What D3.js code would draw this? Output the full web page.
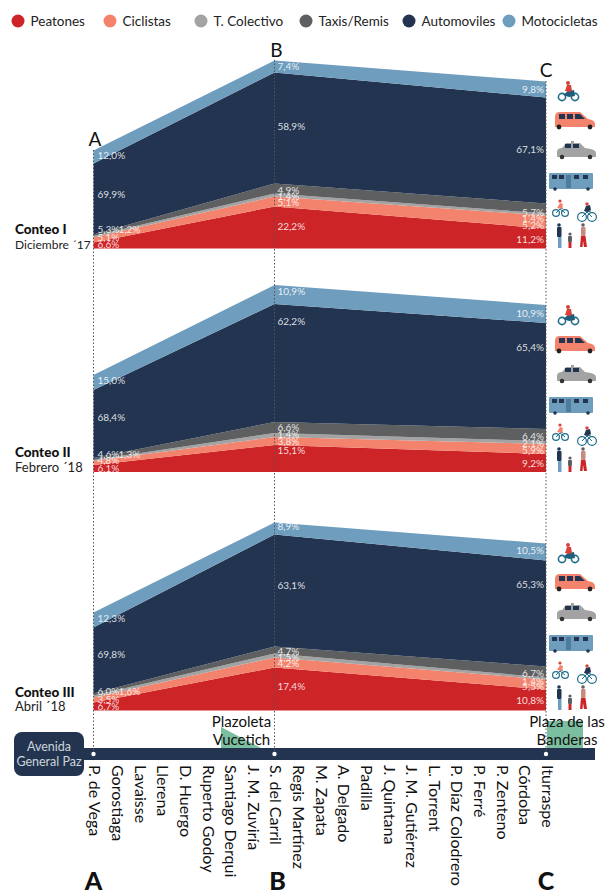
<!DOCTYPE html>
<html>
<head>
<meta charset="utf-8">
<script src="https://cdn.jsdelivr.net/npm/d3@7"></script>
<style>
  html, body { margin: 0; padding: 0; background: #fff; }
  text { font-family: Lato, 'Open Sans', sans-serif; }
</style>
</head>
<body>
<div id="chart"></div>
<script>
const modos = ['Peatones', 'Ciclistas', 'T. Colectivo', 'Taxis/Remis', 'Automoviles', 'Motocicletas'];
const colores = ['#cd2427', '#f4836d', '#a3a3a3', '#5e5f61', '#22344f', '#6f9dbd'];

const calles = ['P. de Vega', 'Gorostiaga', 'Lavaisse', 'Llerena', 'D. Huergo', 'Ruperto Godoy', 'Santiago Derqui',
  'J. M. Zuviría', 'S. del Carril', 'Regis Martínez', 'M. Zapata', 'A. Delgado', 'Padilla', 'J. Quintana',
  'J. M. Gutiérrez', 'L. Torrent', 'P. Díaz Colodrero', 'P. Ferré', 'P. Zenteno', 'Córdoba', 'Iturraspe'];
const puntos = ['P. de Vega', 'S. del Carril', 'Iturraspe'];
const letras = ['A', 'B', 'C'];

// printed percentages per mode, at A, B, C
const pct1 = [[6.6, 22.2, 11.2], [5.1, 5.1, 5.2], [1.2, 1.4, 1.4], [5.3, 4.9, 5.7], [69.9, 58.9, 67.1], [12.0, 7.4, 9.8]];
const pct2 = [[6.1, 15.1, 9.2], [4.8, 3.8, 5.9], [1.3, 1.4, 2.1], [4.6, 6.6, 6.4], [68.4, 62.2, 65.4], [15.0, 10.9, 10.9]];
const pct3 = [[6.7, 17.4, 10.8], [3.5, 4.2, 5.5], [1.6, 1.5, 1.4], [6.0, 4.7, 6.7], [69.8, 63.1, 65.3], [12.3, 8.9, 10.5]];

// band thickness per mode (does not follow the printed %)
const banda1 = [[6, 42, 20], [5, 10, 13], [1.5, 3, 2], [1.5, 10, 10], [71, 111, 106], [13, 12, 16]];
const banda2 = [[7, 27, 18], [4, 8, 10], [1, 4, 3], [2, 11, 12], [68, 118, 106], [15, 19, 18]];
const banda3 = [[8, 43, 21], [5, 10, 10], [2, 4, 2], [2, 7, 11], [66, 112, 106], [15, 12, 17]];

// where each printed % sits, as height over the base line
const alto1 = [[4, 22, 9], [11, 46, 23], [19, 52, 30], [19, 58, 36], [54, 122, 99], [93, 182, 159]];
const alto2 = [[4, 22, 9], [12, 31, 22], [18, 38, 29], [18, 45, 36], [55, 151, 125], [92, 181, 159]];
const alto3 = [[4, 24, 10], [11, 47, 24], [19, 53, 29], [19, 59, 37], [56, 125, 126], [92, 184, 160]];

const titulos = ['Conteo I', 'Conteo II', 'Conteo III'];
const fechas = ['Diciembre ´17', 'Febrero ´18', 'Abril ´18'];

const svg = d3.select('#chart').append('svg')
  .attr('width', 611)
  .attr('height', 895)
  .style('display', 'block');

const x = d3.scalePoint().domain(calles).range([93.5, 546]);
const coma = d3.format('.1f');

// legend
const legendX = [18, 110, 201, 306, 409, 509];
const legend = svg.append('g');
modos.forEach((m, i) => {
  legend.append('circle').attr('cx', legendX[i]).attr('cy', 21).attr('r', 6.5).attr('fill', colores[i]);
  legend.append('text').attr('x', legendX[i] + 12.5).attr('y', 26)
    .attr('font-size', 13.5).attr('fill', '#222').text(m);
});

// park shapes go under the labels
svg.append('path').attr('d', 'M221,727 L261,748 L221,748 Z').attr('fill', '#7cbfa0');
svg.append('rect').attr('x', 547).attr('y', 721).attr('width', 36).attr('height', 27).attr('fill', '#7cbfa0');

function drawPanel(banda, pct, alto, base, idx, tituloY, fechaY, fechaSize) {
  const y = d3.scaleLinear().domain([0, 200]).range([base, base - 200]);
  const rows = puntos.map((p, i) => {
    const r = { calle: p };
    modos.forEach((m, k) => { r[m] = banda[k][i]; });
    return r;
  });
  const series = d3.stack().keys(modos)(rows);
  const area = d3.area()
    .x(d => x(d.data.calle))
    .y0(d => y(d[0]))
    .y1(d => y(d[1]));

  const g = svg.append('g');
  g.selectAll('path.banda')
    .data(series)
    .enter()
    .append('path')
      .attr('class', 'banda')
      .attr('d', area)
      .attr('fill', (d, i) => colores[i]);

  // percentage labels
  modos.forEach((m, k) => {
    puntos.forEach((p, i) => {
      let lx = x(p);
      let anchor = 'start';
      if (i === 0) { lx += 4; if (k === 2) { lx += 21; } }
      if (i === 1) { lx += 3; }
      if (i === 2) { lx -= 2; anchor = 'end'; }
      g.append('text')
        .attr('x', lx)
        .attr('y', y(alto[k][i]))
        .attr('dy', '0.35em')
        .attr('text-anchor', anchor)
        .attr('font-size', 10)
        .attr('fill', '#fff')
        .attr('fill-opacity', 0.85)
        .text(coma(pct[k][i]).replace('.', ',') + '%');
    });
  });

  g.append('text').attr('x', 15).attr('y', tituloY)
    .attr('font-size', 13.5).attr('font-weight', 900).attr('fill', '#111').text(titulos[idx]);
  g.append('text').attr('x', 15).attr('y', fechaY)
    .attr('font-size', fechaSize).attr('fill', '#222').text(fechas[idx]);
}

drawPanel(banda1, pct1, alto1, 248.5, 0, 233.5, 248.5, 12);
drawPanel(banda2, pct2, alto2, 472, 1, 456.5, 471.5, 13);
drawPanel(banda3, pct3, alto3, 710.5, 2, 696.5, 710.5, 13);

// avenue bar and street axis
svg.append('rect').attr('x', 84).attr('y', 748).attr('width', 511).attr('height', 12).attr('fill', '#22344f');
svg.append('rect').attr('x', 14).attr('y', 732).attr('width', 70).attr('height', 44).attr('rx', 8).attr('fill', '#22344f');
svg.append('text').attr('x', 49).attr('y', 751).attr('text-anchor', 'middle')
  .attr('font-size', 12.5).attr('fill', '#cdd4dc').text('Avenida');
svg.append('text').attr('x', 49).attr('y', 766).attr('text-anchor', 'middle')
  .attr('font-size', 12.5).attr('fill', '#cdd4dc').text('General Paz');

const axis = svg.append('g')
  .attr('transform', 'translate(0,762)')
  .call(d3.axisBottom(x).tickSize(0));
axis.select('.domain').remove();
axis.selectAll('text')
  .attr('transform', 'rotate(90)')
  .attr('x', 3)
  .attr('y', -1)
  .attr('dy', '0.35em')
  .style('text-anchor', 'start')
  .style('font-family', 'Lato, sans-serif')
  .style('font-size', '16px')
  .attr('fill', '#111');

// dotted guides
const guiaTop = [150, 60, 81];
puntos.forEach((p, i) => {
  svg.append('line')
    .attr('x1', x(p)).attr('x2', x(p))
    .attr('y1', guiaTop[i]).attr('y2', 751)
    .attr('stroke', '#555').attr('stroke-width', 1).attr('stroke-dasharray', '1.5,2');
  svg.append('circle').attr('cx', x(p)).attr('cy', 754).attr('r', 2.2).attr('fill', '#fff');
});

// letters
const letraY = [146, 57, 77];
letras.forEach((l, i) => {
  svg.append('text').attr('x', x(puntos[i]) + (i === 0 ? 1.5 : i === 1 ? 2 : 0)).attr('y', letraY[i])
    .attr('text-anchor', 'middle').attr('font-size', 19).attr('fill', '#111').text(l);
  svg.append('text').attr('x', x(puntos[i]) + (i === 1 ? 3 : 0)).attr('y', 890)
    .attr('text-anchor', 'middle').attr('font-size', 25).attr('font-weight', 900).attr('fill', '#111').text(l);
});

// place names
svg.append('text').attr('x', 241.5).attr('y', 727).attr('text-anchor', 'middle').attr('font-size', 15).attr('fill', '#111').text('Plazoleta');
svg.append('text').attr('x', 241.5).attr('y', 745).attr('text-anchor', 'middle').attr('font-size', 15).attr('fill', '#111').text('Vucetich');
svg.append('text').attr('x', 567).attr('y', 727).attr('text-anchor', 'middle').attr('font-size', 15).attr('fill', '#111').text('Plaza de las');
svg.append('text').attr('x', 567).attr('y', 745).attr('text-anchor', 'middle').attr('font-size', 15).attr('fill', '#111').text('Banderas');

// vehicle and people icons, one column per panel
function drawIcons(dy) {
  const g = svg.append('g').attr('transform', 'translate(0,' + dy + ')');
  const rect = (a, b, w, h, c, r) => g.append('rect').attr('x', a).attr('y', b).attr('width', w).attr('height', h).attr('fill', c).attr('rx', r || 0);
  const wheel = (a, b, r, c, sw) => g.append('circle').attr('cx', a).attr('cy', b).attr('r', r).attr('fill', 'none').attr('stroke', c).attr('stroke-width', sw || 1.2);
  const dot = (a, b, r, c) => g.append('circle').attr('cx', a).attr('cy', b).attr('r', r).attr('fill', c);
  const poly = (d, c) => g.append('path').attr('d', d).attr('fill', c);
  const bar = (d, c, sw) => g.append('path').attr('d', d).attr('fill', 'none').attr('stroke', c).attr('stroke-width', sw || 1);

  // moto
  wheel(562, 97, 3.6, '#1f6f8b', 1.6);
  wheel(575, 97, 3.6, '#1f6f8b', 1.6);
  poly('M563,95 L568,91 L574,90 L575,96 L569,97 Z', '#1f5f7d');
  poly('M565,91 L567,85 L571,85 L572,91 L569,92 Z', '#d6433b');
  dot(568, 83, 2, '#d6433b');
  // car
  poly('M555,117 Q555,112 560,112 L580,112 L588,119 Q595,120 595,124 L595,127 L555,127 Z', '#f4836d');
  rect(559, 114, 6, 5, '#22344f');
  rect(567, 114, 6, 5, '#22344f');
  poly('M575,114 L580,114 L585,119 L575,119 Z', '#22344f');
  dot(559, 127, 2.4, '#222');
  dot(590, 127, 2.4, '#222');
  // taxi
  poly('M557,152 Q557,148 562,148 L566,143 L580,143 L585,148 Q596,149 596,153 L596,157 L557,157 Z', '#a3a3a3');
  rect(565, 144, 6, 4, '#22344f');
  rect(573, 144, 6, 4, '#22344f');
  rect(571, 141, 3, 2, '#a3a3a3');
  dot(562, 157, 2.3, '#333');
  dot(590, 157, 2.3, '#333');
  // bus
  rect(549, 173, 44, 16, '#6f9dbd', 1);
  [552, 559, 574, 583].forEach(a => rect(a, 175, 5, 4, '#22344f'));
  rect(566, 175, 5, 13, '#4d7d9c');
  dot(555, 189, 1.8, '#22344f');
  dot(588, 189, 1.8, '#22344f');
  // bikes
  wheel(556, 213, 3.4, '#1f6f8b');
  wheel(565, 213, 3.4, '#1f6f8b');
  bar('M556,213 L560,209 L565,213 M560,209 L563,208', '#1f6f8b');
  poly('M557,208 L560,203 L563,204 L562,209 Z', '#f4836d');
  dot(560, 201, 1.6, '#d6433b');
  wheel(582, 217, 4.4, '#1f6f8b');
  wheel(592, 217, 4.4, '#1f6f8b');
  bar('M582,217 L587,212 L592,217 M587,212 L591,211', '#1f6f8b');
  poly('M584,211 L586,206 L590,205 L591,210 L587,212 Z', '#22344f');
  dot(587, 204, 1.7, '#d6433b');
  // people
  dot(559, 225, 1.8, '#22344f');
  rect(557, 227, 4.5, 10, '#22344f', 1);
  rect(558, 237, 3.5, 11, '#6f9dbd');
  dot(570, 234, 1.6, '#5e5f61');
  rect(568, 236, 4, 6, '#5e5f61', 1);
  rect(568.5, 242, 3, 6, '#cd2427');
  dot(583, 225, 1.8, '#5e5f61');
  rect(581, 227, 4.5, 9, '#c98a80', 1);
  poly('M581,236 L585.5,236 L587,247 L584,247 L583,241 L582.5,247 L580,247 Z', '#cd2427');
}
[0, 224, 462].forEach(drawIcons);
</script>
</body>
</html>
